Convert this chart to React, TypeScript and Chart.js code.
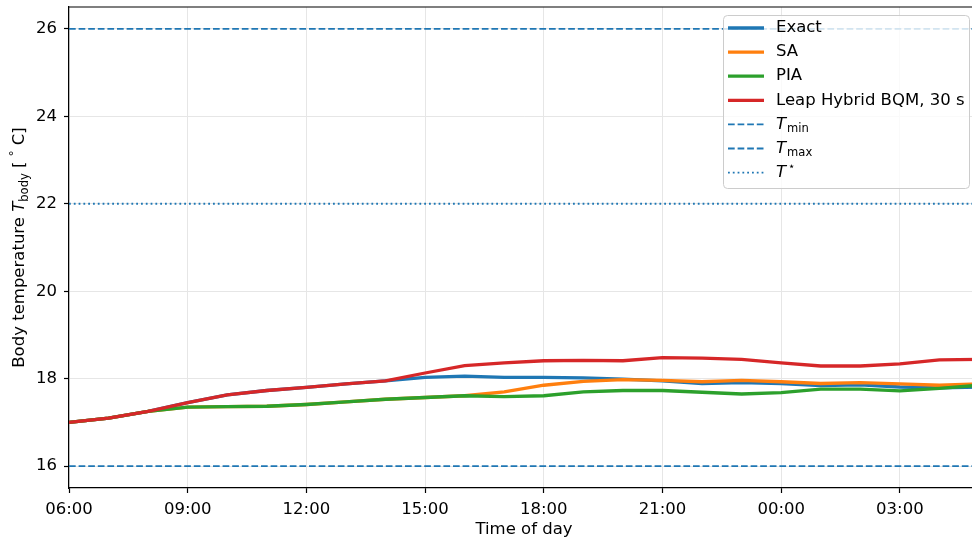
import React, { useEffect, useRef } from "react";
import { Chart, registerables } from "chart.js";

Chart.register(...registerables);

// ---------- data ----------
const times = [
  "06:00", "07:00", "08:00", "09:00", "10:00", "11:00", "12:00", "13:00",
  "14:00", "15:00", "16:00", "17:00", "18:00", "19:00", "20:00", "21:00",
  "22:00", "23:00", "00:00", "01:00", "02:00", "03:00", "04:00", "05:00",
];
const exactValues = [17.0, 17.1, 17.25, 17.45, 17.63, 17.73, 17.8, 17.88, 17.95, 18.03, 18.06, 18.03, 18.03, 18.02, 17.99, 17.95, 17.89, 17.91, 17.89, 17.84, 17.86, 17.81, 17.79, 17.81];
const saValues = [17.0, 17.1, 17.25, 17.35, 17.36, 17.37, 17.41, 17.47, 17.53, 17.57, 17.61, 17.7, 17.85, 17.94, 17.98, 17.96, 17.93, 17.96, 17.93, 17.89, 17.91, 17.88, 17.85, 17.88];
const piaValues = [17.0, 17.1, 17.25, 17.35, 17.36, 17.37, 17.41, 17.47, 17.53, 17.57, 17.61, 17.59, 17.61, 17.7, 17.73, 17.73, 17.69, 17.65, 17.68, 17.76, 17.76, 17.72, 17.78, 17.85];
const leapValues = [17.0, 17.1, 17.25, 17.45, 17.63, 17.73, 17.8, 17.88, 17.95, 18.13, 18.3, 18.36, 18.41, 18.42, 18.41, 18.48, 18.47, 18.44, 18.36, 18.29, 18.29, 18.34, 18.43, 18.44];

const seriesLabels = ["Exact", "SA", "PIA", "Leap Hybrid BQM, 30 s"];
const refLabels = ["T_min", "T_max", "T^⋆"];
const refValues = [16, 26, 22];

const xTickLabels = ["06:00", "09:00", "12:00", "15:00", "18:00", "21:00", "00:00", "03:00"];
const yTickValues = [16, 18, 20, 22, 24, 26];
const yMin = 15.5;
const yMax = 26.5;
const xTitle = "Time of day";
const yTitleParts = ["Body temperature ", "T", "body", " [ ", "°", " C]"];

// ---------- helpers ----------
const startHour = 6;
const toOffset = (t: string) => {
  const h = parseInt(t.split(":")[0], 10);
  return (h - startHour + 24) % 24;
};
const xs = times.map(toOffset);
const xMaxHours = xs[xs.length - 1];
const fmtTick = (v: number) => {
  const h = (startHour + Math.round(v)) % 24;
  return (h < 10 ? "0" : "") + h + ":00";
};

const FONT = "'DejaVu Sans', sans-serif";
const FS = 16.5;
const colors = ["#1f77b4", "#ff7f0e", "#2ca02c", "#d62728"];
const refColor = "#1f77b4";
const refDashes = [[6.7, 2.9], [6.7, 2.9], [1.8, 3.0]];

function drawRich(ctx: CanvasRenderingContext2D, x: number, y: number, label: string, size: number) {
  let base = label, sub = "", sup = "";
  if (label.includes("_")) { [base, sub] = label.split("_"); }
  else if (label.includes("^")) { [base, sup] = label.split("^"); }
  const rich = sub !== "" || sup !== "";
  ctx.font = `${rich ? "italic " : ""}${size}px ${FONT}`;
  ctx.fillText(base, x, y);
  const w = ctx.measureText(base).width;
  if (sub) {
    ctx.font = `${size * 0.7}px ${FONT}`;
    ctx.fillText(sub, x + w + 1, y + size * 0.3);
  }
  if (sup) {
    ctx.font = `${size * 0.7}px ${FONT}`;
    ctx.fillText(sup, x + w + 2, y - size * 0.35);
  }
}

const customPlugin = {
  id: "customDecor",
  afterDraw(chart: any) {
    const { ctx, chartArea } = chart;
    ctx.save();
    // top spine
    ctx.strokeStyle = "#000";
    ctx.lineWidth = 1.2;
    ctx.beginPath();
    ctx.moveTo(chartArea.left, chartArea.top);
    ctx.lineTo(chartArea.right, chartArea.top);
    ctx.stroke();

    // y title with subscript
    ctx.fillStyle = "#000";
    ctx.textBaseline = "middle";
    ctx.textAlign = "left";
    const fs = FS;
    const parts = [
      { t: yTitleParts[0], f: `${fs}px ${FONT}`, dy: 0 },
      { t: yTitleParts[1], f: `italic ${fs}px ${FONT}`, dy: 0 },
      { t: yTitleParts[2], f: `${fs * 0.7}px ${FONT}`, dy: fs * 0.3 },
      { t: yTitleParts[3], f: `${fs}px ${FONT}`, dy: 0 },
      { t: yTitleParts[4], f: `${fs * 0.7}px ${FONT}`, dy: -fs * 0.3 },
      { t: yTitleParts[5], f: `${fs}px ${FONT}`, dy: 0 },
    ];
    let total = 0;
    const widths = parts.map((p) => { ctx.font = p.f; const w = ctx.measureText(p.t).width; total += w; return w; });
    ctx.translate(20, (chartArea.top + chartArea.bottom) / 2);
    ctx.rotate(-Math.PI / 2);
    let cx = -total / 2;
    parts.forEach((p, i) => { ctx.font = p.f; ctx.fillText(p.t, cx, p.dy); cx += widths[i]; });
    ctx.setTransform(1, 0, 0, 1, 0, 0);

    // legend
    const boxW = 246, boxH = 173;
    const bx = chartArea.right - 256, by = chartArea.top + 8;
    ctx.fillStyle = "rgba(255,255,255,0.8)";
    ctx.strokeStyle = "#cccccc";
    ctx.lineWidth = 1;
    ctx.beginPath();
    (ctx as any).roundRect(bx + 0.5, by + 0.5, boxW, boxH, 4);
    ctx.fill();
    ctx.stroke();
    const ds = chart.data.datasets;
    ds.forEach((d: any, i: number) => {
      const y = by + 13 + i * 24.1;
      ctx.strokeStyle = d.borderColor;
      ctx.lineWidth = d.borderWidth;
      ctx.setLineDash(d.borderDash || []);
      ctx.beginPath();
      ctx.moveTo(bx + 5, y);
      ctx.lineTo(bx + 41, y);
      ctx.stroke();
      ctx.setLineDash([]);
      ctx.fillStyle = "#000";
      ctx.textBaseline = "middle";
      drawRich(ctx, bx + 53, y, d.label, FS);
    });
    ctx.restore();
  },
};

export default function App() {
  const ref = useRef<HTMLCanvasElement>(null);
  useEffect(() => {
    if (!ref.current) return;
    const seriesData = [exactValues, saValues, piaValues, leapValues];
    const datasets: any[] = seriesData.map((vals, i) => ({
      label: seriesLabels[i],
      data: vals.map((v, j) => ({ x: xs[j], y: v })),
      borderColor: colors[i],
      backgroundColor: colors[i],
      borderWidth: 3.3,
      pointRadius: 0,
      tension: 0,
      order: 10 - i,
    }));
    refValues.forEach((v, i) => {
      datasets.push({
        label: refLabels[i],
        data: [{ x: 0, y: v }, { x: xMaxHours, y: v }],
        borderColor: refColor,
        backgroundColor: refColor,
        borderWidth: 1.8,
        borderDash: refDashes[i],
        pointRadius: 0,
        order: 20,
      });
    });
    const chart = new Chart(ref.current, {
      type: "line",
      data: { datasets },
      options: {
        animation: false,
        responsive: false,
        devicePixelRatio: 1,
        layout: { padding: { top: 7, left: 0, right: 0, bottom: 0 } },
        plugins: { legend: { display: false }, tooltip: { enabled: false } },
        scales: {
          x: {
            type: "linear",
            min: 0,
            max: xMaxHours,
            afterBuildTicks: (s: any) => {
              s.ticks = xTickLabels.map((t) => ({ value: toOffset(t) }));
            },
            afterFit: (s: any) => { s.height = 57; s.paddingLeft = 0; s.paddingRight = 0; },
            ticks: {
              callback: (v: any) => fmtTick(Number(v)),
              font: { family: FONT, size: FS },
              color: "#000",
              padding: 7,
              maxRotation: 0,
              autoSkip: false,
            },
            grid: { color: "#e6e6e6", lineWidth: 1, tickColor: "#000", tickLength: 5, tickWidth: 1.2 },
            border: { color: "#000", width: 1.2 },
            title: { display: true, text: xTitle, font: { family: FONT, size: FS }, color: "#000", padding: { top: 0, bottom: 5 } },
          },
          y: {
            type: "linear",
            min: yMin,
            max: yMax,
            afterBuildTicks: (s: any) => {
              s.ticks = yTickValues.map((v) => ({ value: v }));
            },
            afterFit: (s: any) => { s.width = 69; s.paddingTop = 0; s.paddingBottom = 0; },
            ticks: {
              font: { family: FONT, size: FS },
              color: "#000",
              padding: 7,
            },
            grid: { color: "#e6e6e6", lineWidth: 1, tickColor: "#000", tickLength: 5, tickWidth: 1.2 },
            border: { color: "#000", width: 1.2 },
          },
        },
      },
      plugins: [customPlugin],
    });
    return () => chart.destroy();
  }, []);
  return (
    <div style={{ position: "fixed", left: 0, top: 0, width: 972, height: 545, overflow: "hidden", background: "#fff" }}>
      <canvas ref={ref} width={979} height={545} style={{ display: "block", width: 979, height: 545 }} />
    </div>
  );
}
